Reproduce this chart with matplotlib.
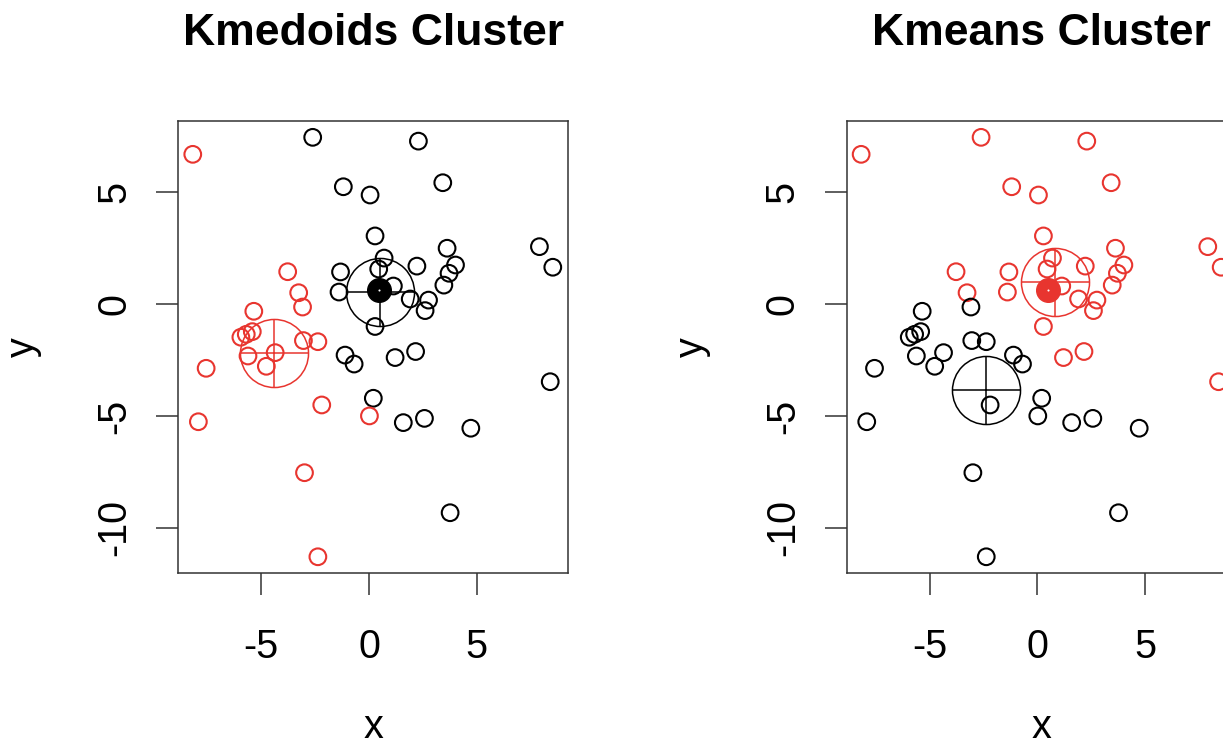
import matplotlib.pyplot as plt

plt.rcParams['font.family'] = ['Liberation Sans', 'DejaVu Sans']
plt.rcParams['axes.unicode_minus'] = False

# point coordinates
x = [-2.61, -1.19, 0.05, 0.28, -1.32, -1.39, 0.28, 2.29, 3.42, 7.90,
     8.52, 3.62, 4.01, 3.71, 3.47, 2.22, 0.70, 0.45, 1.13, 1.91,
     2.76, 2.60, 2.16, 1.21, 8.40, 0.20, 1.59, 2.57, 4.72, 3.76,
     -1.11, -0.69,
     -8.17, -3.77, -3.26, -3.08, -5.34, -5.41, -5.69, -5.94, -5.61, -4.76,
     -4.35, -3.04, -2.37, -2.19, -7.55, -7.91, 0.02, -2.99, -2.37]
y = [7.46, 5.25, 4.88, 3.05, 1.44, 0.54, -1.00, 7.29, 5.43, 2.57,
     1.65, 2.50, 1.75, 1.38, 0.85, 1.70, 2.06, 1.57, 0.81, 0.23,
     0.18, -0.29, -2.12, -2.39, -3.47, -4.21, -5.30, -5.11, -5.55, -9.33,
     -2.28, -2.68,
     6.70, 1.45, 0.51, -0.13, -0.32, -1.23, -1.35, -1.48, -2.32, -2.78,
     -2.17, -1.63, -1.68, -4.51, -2.87, -5.26, -5.00, -7.54, -11.30]

kmedoids_cluster = [1] * 32 + [2] * 19
kmeans_cluster = ([2] * 25 + [1] * 7 +
                  [2, 2, 2] + [1] * 16)

kmedoids_cx = [0.52, -4.39]
kmedoids_cy = [0.55, -2.17]
kmeans_cx = [-2.38, 0.82]
kmeans_cy = [-3.84, 1.00]

# highlighted observation and the cluster it falls in
obs_x, obs_y = 0.48, 0.61
obs_cluster = {'Kmedoids Cluster': 1, 'Kmeans Cluster': 2}

palette = {1: 'black', 2: '#E8352F'}

fig = plt.figure(figsize=(12.23, 7.47), dpi=100)

panels = [
    ('Kmedoids Cluster', kmedoids_cluster, kmedoids_cx, kmedoids_cy, 0.1458),
    ('Kmeans Cluster', kmeans_cluster, kmeans_cx, kmeans_cy, 0.6923),
]

for title, labels, cx, cy, left in panels:
    ax = fig.add_axes([left, 0.2325, 0.3189, 0.6055])
    cols = [palette[c] for c in labels]
    ax.scatter(x, y, s=144, facecolors='none', edgecolors=cols, linewidths=1.5)

    for k in (1, 2):
        ax.plot(cx[k - 1], cy[k - 1], 'o', ms=49, mfc='none', mec=palette[k], mew=1.1)
        ax.plot(cx[k - 1], cy[k - 1], '+', ms=49, mec=palette[k], mew=1.1)

    c = palette[obs_cluster[title]]
    ax.plot(obs_x, obs_y, 'o', ms=17, color=c, mew=1)
    ax.plot(obs_x, obs_y, 'o', ms=1.5, color='white', mew=0)

    ax.set_xlim(-8.84, 9.24)
    ax.set_ylim(-12.04, 8.19)
    ax.set_xticks([-5, 0, 5])
    ax.set_yticks([-10, -5, 0, 5])
    ax.tick_params(length=15.5, width=1.1, color='#333333', labelsize=28.5)
    ax.tick_params(axis='x', pad=24)
    ax.tick_params(axis='y', pad=16.8, labelrotation=90)
    for lab in ax.get_yticklabels():
        lab.set_va('center')
    for sp in ax.spines.values():
        sp.set_linewidth(1.1)
        sp.set_color('#333333')

    ax.set_title(title, fontsize=32, fontweight='bold', pad=54.7)
    ax.set_xlabel('x', fontsize=28.5, va='baseline')
    ax.xaxis.set_label_coords(0.5, -0.365)
    ax.set_ylabel('y', fontsize=28.5, va='center', ha='center')
    ax.yaxis.set_label_coords(-0.398, 0.5)

fig.savefig('out.png', dpi=100)
